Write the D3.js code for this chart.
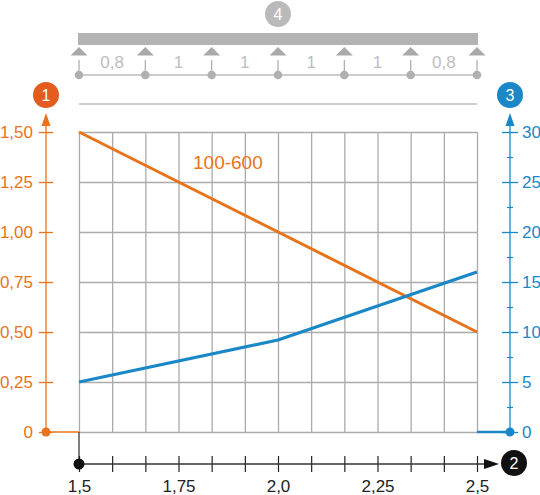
<!DOCTYPE html>
<html>
<head>
<meta charset="utf-8">
<script src="https://cdn.jsdelivr.net/npm/d3@7"></script>
<style>
  html, body { margin: 0; padding: 0; background: #fff; }
  svg { display: block; font-family: "Liberation Sans", Arial, Helvetica, sans-serif; }
</style>
</head>
<body>
<svg id="chart" width="540" height="495"></svg>
<script>
// ---- data ----
const xDomain = [1.5, 2.5];
const xGridTicks = [1.5, 1.5833, 1.6667, 1.75, 1.8333, 1.9167, 2.0, 2.0833, 2.1667, 2.25, 2.3333, 2.4167, 2.5];
const xLabelTicks = [1.5, 1.75, 2.0, 2.25, 2.5];
const xTickLabels = ["1,5", "1,75", "2,0", "2,25", "2,5"];
const leftTicks = [0, 0.25, 0.5, 0.75, 1.0, 1.25, 1.5];
const leftTickLabels = ["0", "0,25", "0,50", "0,75", "1,00", "1,25", "1,50"];
const rightTicks = [0, 5, 10, 15, 20, 25, 30];
const rightMinorTicks = [2.5, 7.5, 12.5, 17.5, 22.5, 27.5];
const orangeX = [1.5, 2.5];
const orangeY = [1.5, 0.5];
const blueX = [1.5, 2.0, 2.5];
const blueY = [5, 9.2, 16];
const seriesLabel = "100-600";
const spanLabels = ["0,8", "1", "1", "1", "1", "0,8"];
const badgeLabels = { left: "1", bottom: "2", right: "3", top: "4" };

// ---- styles ----
const ORANGE = "#e8731c";
const ORANGE_BADGE = "#e35b1e";
const BLUE = "#1a87c6";
const GRID = "#ababab";
const LIGHT = "#bdbdbd";

const svg = d3.select("#chart");

const x = d3.scaleLinear().domain(xDomain).range([79, 477]);
const yL = d3.scaleLinear().domain([0, 1.5]).range([432, 132]);
const yR = d3.scaleLinear().domain([0, 30]).range([432, 132]);

// ---- grid ----
const gGridX = svg.append("g").attr("transform", `translate(0,432)`)
  .call(d3.axisBottom(x).tickValues(xGridTicks).tickSize(-300).tickFormat(""));
gGridX.select(".domain").remove();
gGridX.selectAll("line").attr("stroke", GRID).attr("stroke-width", 1.3);

const gGridY = svg.append("g").attr("transform", `translate(79,0)`)
  .call(d3.axisLeft(yL).tickValues(leftTicks).tickSize(-398).tickFormat(""));
gGridY.select(".domain").remove();
gGridY.selectAll("line").attr("stroke", GRID).attr("stroke-width", 1.3);

// separator line above plot
svg.append("line").attr("x1", x(1.5)).attr("x2", x(2.5)).attr("y1", 104).attr("y2", 104)
  .attr("stroke", LIGHT).attr("stroke-width", 1.3);

// ---- top beam diagram ----
svg.append("rect").attr("x", x(1.5) - 1).attr("y", 33).attr("width", x(2.5) - x(1.5) + 2).attr("height", 12)
  .attr("fill", "#b3b3b3");
const supports = d3.range(spanLabels.length + 1).map(i => xDomain[0] + i * (xDomain[1] - xDomain[0]) / spanLabels.length);
svg.append("line").attr("x1", x(supports[0])).attr("x2", x(supports[supports.length - 1]))
  .attr("y1", 75).attr("y2", 75).attr("stroke", LIGHT).attr("stroke-width", 1.6);
supports.forEach(s => {
  const cx = x(s);
  svg.append("path").attr("d", `M${cx},47 L${cx - 8.5},55.5 L${cx + 8.5},55.5 Z`).attr("fill", "#a9a9a9");
  svg.append("line").attr("x1", cx).attr("x2", cx).attr("y1", 60).attr("y2", 72)
    .attr("stroke", "#b0b0b0").attr("stroke-width", 1.3);
  svg.append("circle").attr("cx", cx).attr("cy", 75).attr("r", 4.3).attr("fill", "#b0b0b0");
});
spanLabels.forEach((t, i) => {
  svg.append("text").attr("x", (x(supports[i]) + x(supports[i + 1])) / 2).attr("y", 68)
    .attr("text-anchor", "middle").attr("font-size", 17).attr("fill", LIGHT).text(t);
});

// ---- badges ----
function badge(cx, cy, fill, label) {
  svg.append("circle").attr("cx", cx).attr("cy", cy).attr("r", 13).attr("fill", fill);
  svg.append("text").attr("x", cx).attr("y", cy + 5.5).attr("text-anchor", "middle")
    .attr("font-size", 16).attr("fill", "#fff").text(label);
}
badge(x(2.0), 14, "#bababa", badgeLabels.top);

// ---- left axis ----
const gL = svg.append("g").attr("transform", "translate(46,0)")
  .call(d3.axisLeft(yL).tickValues(leftTicks).tickFormat((d, i) => leftTickLabels[i]));
gL.select(".domain").remove();
gL.selectAll(".tick line").attr("x1", -7).attr("x2", 7).attr("stroke", ORANGE).attr("stroke-width", 1.3);
gL.selectAll(".tick text").attr("x", -13).attr("fill", ORANGE).attr("font-size", 17)
  .attr("font-family", "Liberation Sans, Arial, sans-serif");
svg.append("line").attr("x1", 46).attr("x2", 46).attr("y1", 432).attr("y2", 122)
  .attr("stroke", ORANGE).attr("stroke-width", 1.3);
svg.append("path").attr("d", "M46,113 L41.5,126 L50.5,126 Z").attr("fill", ORANGE);
svg.append("line").attr("x1", 46).attr("x2", x(1.5)).attr("y1", 432).attr("y2", 432)
  .attr("stroke", ORANGE).attr("stroke-width", 1.5);
svg.append("circle").attr("cx", 46).attr("cy", 432).attr("r", 4.5).attr("fill", ORANGE);
badge(46, 95, ORANGE_BADGE, badgeLabels.left);

// ---- right axis ----
const gR = svg.append("g").attr("transform", "translate(510,0)")
  .call(d3.axisRight(yR).tickValues(rightTicks));
gR.select(".domain").remove();
gR.selectAll(".tick line").attr("x1", -8).attr("x2", 8).attr("stroke", BLUE).attr("stroke-width", 1.3);
gR.selectAll(".tick text").attr("x", 12).attr("fill", BLUE).attr("font-size", 17)
  .attr("font-family", "Liberation Sans, Arial, sans-serif");
const gRm = svg.append("g").attr("transform", "translate(510,0)")
  .call(d3.axisRight(yR).tickValues(rightMinorTicks).tickFormat(""));
gRm.select(".domain").remove();
gRm.selectAll(".tick line").attr("x1", -3).attr("x2", 3).attr("stroke", BLUE).attr("stroke-width", 1.2);
svg.append("line").attr("x1", 510).attr("x2", 510).attr("y1", 432).attr("y2", 122)
  .attr("stroke", BLUE).attr("stroke-width", 1.3);
svg.append("path").attr("d", "M510,113 L505.5,126 L514.5,126 Z").attr("fill", BLUE);
svg.append("line").attr("x1", x(2.5)).attr("x2", 510).attr("y1", 432).attr("y2", 432)
  .attr("stroke", BLUE).attr("stroke-width", 2.5);
svg.append("circle").attr("cx", 510).attr("cy", 432).attr("r", 4.5).attr("fill", BLUE);
badge(510, 95, BLUE, badgeLabels.right);

// ---- bottom axis ----
svg.append("line").attr("x1", x(1.5)).attr("x2", x(1.5)).attr("y1", 432).attr("y2", 464)
  .attr("stroke", "#555").attr("stroke-width", 1.5);
const gX = svg.append("g").attr("transform", "translate(0,464)")
  .call(d3.axisBottom(x).tickValues(xGridTicks).tickFormat(d => {
    const i = xLabelTicks.findIndex(v => Math.abs(v - d) < 1e-3);
    return i >= 0 ? xTickLabels[i] : "";
  }));
gX.select(".domain").remove();
gX.selectAll(".tick line").attr("y1", -8).attr("y2", 8).attr("stroke", "#222").attr("stroke-width", 1.2);
gX.selectAll(".tick text").attr("y", 16).attr("fill", "#222").attr("font-size", 17)
  .attr("font-family", "Liberation Sans, Arial, sans-serif");
svg.append("line").attr("x1", x(1.5)).attr("x2", 488).attr("y1", 464).attr("y2", 464)
  .attr("stroke", "#333").attr("stroke-width", 1.3);
svg.append("path").attr("d", "M499,464 L484,459 L484,469 Z").attr("fill", "#111");
svg.append("circle").attr("cx", x(1.5)).attr("cy", 464).attr("r", 5.5).attr("fill", "#111");
badge(514, 463, "#111", badgeLabels.bottom);

// ---- series ----
const lineO = d3.line().x(d => x(d[0])).y(d => yL(d[1]));
const lineB = d3.line().x(d => x(d[0])).y(d => yR(d[1]));
svg.append("path").datum(orangeX.map((v, i) => [v, orangeY[i]])).attr("d", lineO)
  .attr("fill", "none").attr("stroke", ORANGE).attr("stroke-width", 3);
svg.append("path").datum(blueX.map((v, i) => [v, blueY[i]])).attr("d", lineB)
  .attr("fill", "none").attr("stroke", BLUE).attr("stroke-width", 3.3).attr("stroke-linejoin", "round");
svg.append("text").attr("x", 193).attr("y", 169).attr("font-size", 19).attr("fill", ORANGE).text(seriesLabel);
</script>
</body>
</html>
